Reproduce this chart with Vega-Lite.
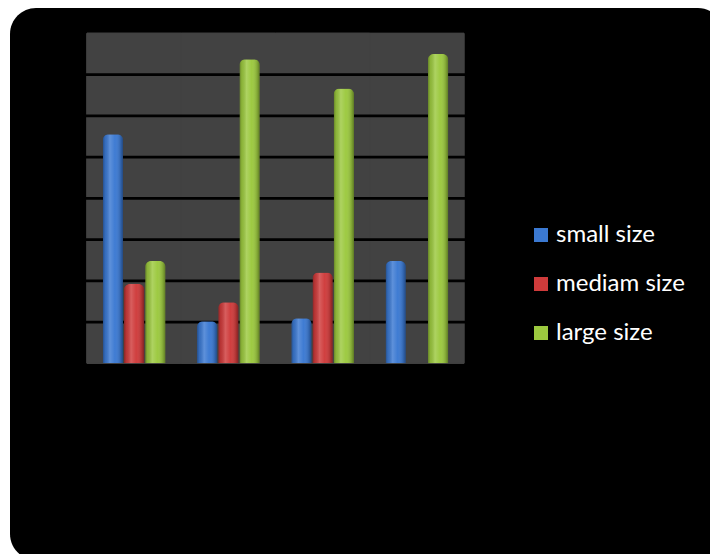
{
  "$schema": "https://vega.github.io/schema/vega-lite/v6.json",
  "width": 714,
  "height": 552,
  "autosize": {"type": "none"},
  "padding": {"left": 10, "top": 8, "right": -14, "bottom": -6},
  "background": "#ffffff",
  "config": {
    "view": {"fill": "#000000", "stroke": null, "cornerRadius": 26},
    "legend": {"padding": 0}
  },
  "datasets": {
    "sizes": [
      {"group": "1", "size": "small size", "value": 5.55},
      {"group": "1", "size": "mediam size", "value": 1.92},
      {"group": "1", "size": "large size", "value": 2.48},
      {"group": "2", "size": "small size", "value": 1.02},
      {"group": "2", "size": "mediam size", "value": 1.48},
      {"group": "2", "size": "large size", "value": 7.37},
      {"group": "3", "size": "small size", "value": 1.09},
      {"group": "3", "size": "mediam size", "value": 2.2},
      {"group": "3", "size": "large size", "value": 6.66},
      {"group": "4", "size": "small size", "value": 2.48},
      {"group": "4", "size": "large size", "value": 7.5}
    ],
    "gridlines": [
      {"v": 1}, {"v": 2}, {"v": 3}, {"v": 4}, {"v": 5}, {"v": 6}, {"v": 7}
    ]
  },
  "layer": [
    {
      "description": "grey plot area, one full-width band per group",
      "data": {"name": "sizes"},
      "mark": {"type": "bar", "color": "#424242", "stroke": "#424242", "strokeWidth": 1},
      "encoding": {
        "x": {
          "field": "group", "type": "nominal", "axis": null,
          "scale": {"domain": ["1", "2", "3", "4"], "range": [77, 454], "paddingInner": 0, "paddingOuter": 0}
        },
        "y": {
          "datum": 8, "type": "quantitative", "axis": null,
          "scale": {"domain": [0, 8], "range": [355.3, 25.3], "nice": false}
        }
      }
    },
    {
      "description": "horizontal grid lines",
      "data": {"name": "gridlines"},
      "mark": {"type": "rule", "color": "#000000", "strokeWidth": 2.8},
      "encoding": {
        "y": {"field": "v", "type": "quantitative"}
      }
    },
    {
      "data": {"name": "sizes"},
      "mark": {"type": "bar", "cornerRadiusEnd": 6},
      "encoding": {
        "x": {"field": "group", "type": "nominal"},
        "xOffset": {
          "field": "size", "type": "nominal",
          "scale": {"domain": ["small size", "mediam size", "large size"], "paddingInner": 0.04, "paddingOuter": 0.743}
        },
        "y": {"field": "value", "type": "quantitative"},
        "color": {
          "field": "size", "type": "nominal",
          "scale": {"domain": ["small size", "mediam size", "large size"], "range": ["#3b79d2", "#cf3b3b", "#9cc93f"]},
          "legend": {
            "title": null,
            "orient": "none",
            "legendX": 519,
            "legendY": 215,
            "symbolType": "square",
            "symbolSize": 196,
            "symbolStrokeWidth": 0,
            "labelColor": "#ffffff",
            "labelFont": "Lato",
            "labelFontSize": 24,
            "labelOffset": 3,
            "rowPadding": 25,
            "labelLimit": 300
          }
        }
      }
    },
    {
      "description": "cylinder shading laid over each bar",
      "data": {"name": "sizes"},
      "mark": {
        "type": "bar",
        "cornerRadiusEnd": 6,
        "color": {
          "gradient": "linear", "x1": 0, "x2": 1, "y1": 0, "y2": 0,
          "stops": [
            {"offset": 0, "color": "rgba(0,0,0,0.35)"},
            {"offset": 0.12, "color": "rgba(0,0,0,0.1)"},
            {"offset": 0.35, "color": "rgba(255,255,255,0.18)"},
            {"offset": 0.6, "color": "rgba(255,255,255,0.02)"},
            {"offset": 0.88, "color": "rgba(0,0,0,0.18)"},
            {"offset": 1, "color": "rgba(0,0,0,0.4)"}
          ]
        }
      },
      "encoding": {
        "x": {"field": "group", "type": "nominal"},
        "xOffset": {"field": "size", "type": "nominal"},
        "y": {"field": "value", "type": "quantitative"}
      }
    }
  ]
}
